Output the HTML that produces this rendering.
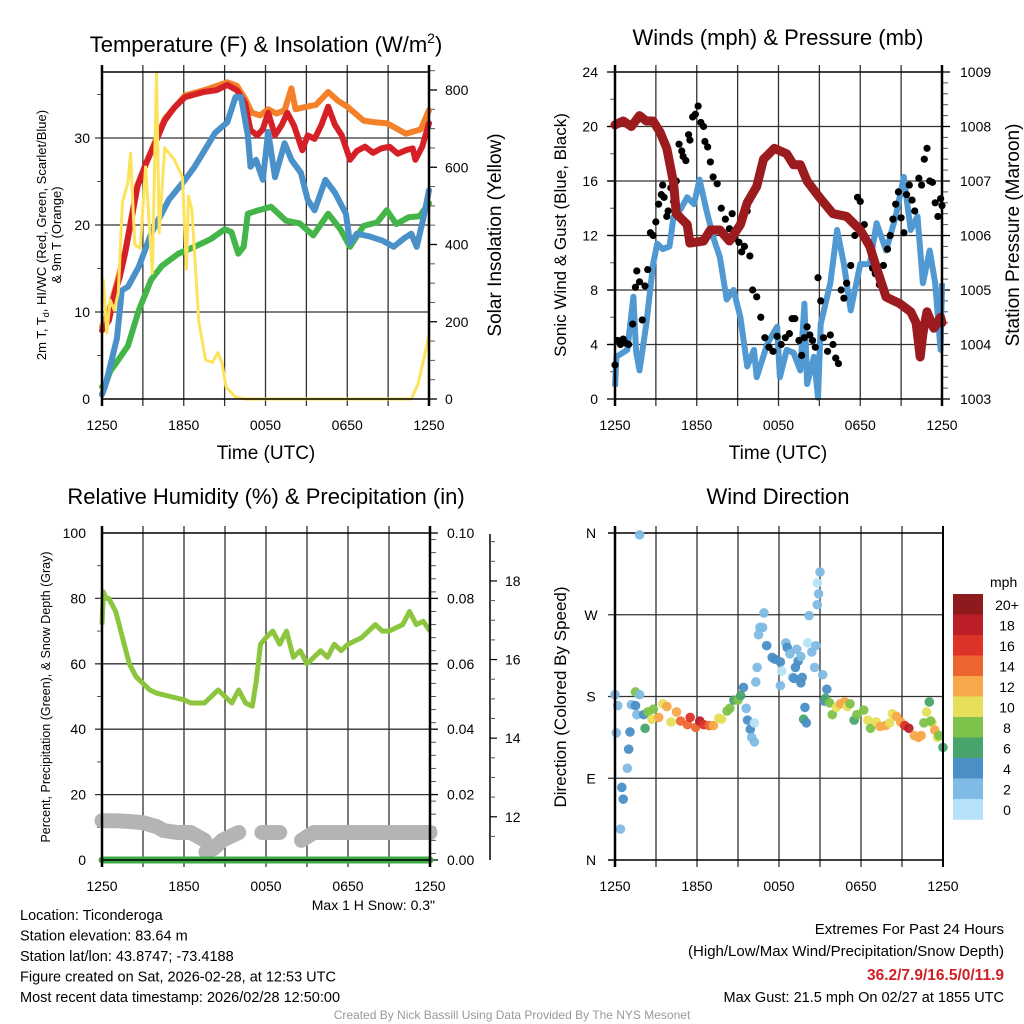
<!DOCTYPE html>
<html><head><meta charset="utf-8"><style>
html,body{margin:0;padding:0;background:#fff}
svg{display:block;font-family:"Liberation Sans",Arial,sans-serif}
</style></head><body>
<svg id="fig" width="1024" height="1024" viewBox="0 0 1024 1024"></svg>
<script>
// ---------- DATA ----------
const xTickLabels = ["1250","1850","0050","0650","1250"];
// Temperature panel (hours since start, degF)
const tRedH = [0,0.5,0.95,1.3,1.7,2.2,2.6,3.2,3.9,4.6,5.3,6.1,6.8,7.5,8.4,9.2,9.9,10.5,10.9,11.4,11.8,12.2,12.7,13.2,13.6,14.1,14.7,15.1,15.6,16.1,16.6,17.1,17.6,18.2,18.7,19.3,19.9,20.5,21.1,21.7,22.3,22.8,23.0,23.5,24];
const tRedV = [7.9,9,12.2,14,16.8,21,24.4,27,29.4,32,33.5,34.7,35,35.3,35.5,36.1,35.5,34,30.9,30.3,31,32.9,30.3,31.5,32.9,31.4,28.6,30.3,29.9,31.5,33.6,31.5,30.3,27.5,28.5,29,28.3,28.8,29,28.2,28.6,28.8,27.5,29,31.7];
const tOrgH = [0,0.5,0.95,1.7,2.6,3.9,4.6,6.1,7.5,9.2,9.9,10.5,11,11.6,12.2,12.8,13.4,13.9,14.2,15,15.7,16.6,17.3,18,19.2,20,20.9,21.6,22.3,23,23.4,24];
const tOrgV = [8.3,10,12.5,17,24.6,29.6,32.2,34.9,35.5,36.4,36,34.5,32.9,32.6,33.3,32.8,33.2,35.7,33.3,33.6,33.8,35.3,34.3,33.6,32,31.8,31.7,31.1,30.5,30.8,31,33.2];
const tBluH = [0,0.22,0.71,1.1,1.45,1.9,2.7,3.6,4.9,6.1,6.8,7.5,8.3,9.2,9.8,10.2,10.7,10.9,11.3,11.8,12.2,12.7,13.4,13.9,14.6,15.1,15.6,16.4,17.1,17.9,18.2,18.7,19.6,20.6,21.4,22.2,22.7,23.1,23.6,24];
const tBluV = [0.5,1.4,4.5,7,12.5,12.9,15.2,19,22.9,25.2,26.7,28.5,30.6,31.8,34.7,34.7,30.3,26.7,27.5,25.2,30.7,25.5,29.4,27.5,26,22.9,21.7,25.2,23.7,21.3,17.9,19,18.7,18.2,17.5,18.5,19,17.5,20.9,24];
const tGrnH = [0,0.2,0.6,1.2,1.9,2.7,3.6,4.4,5.6,6.8,8,9,9.5,10,10.4,10.7,11.5,12.4,13.5,14.5,15.5,16.6,17.5,18.2,19.2,20.2,20.9,21.6,22.5,23.3,24];
const tGrnV = [1.4,1.4,3.2,4.5,6.1,10.2,13.7,15.3,16.7,17.5,18.4,19.5,19.2,16.7,17.5,21.3,21.7,22.1,20.5,20.2,18.8,21.3,19.5,17.5,19.9,20.3,21.7,20.1,20.9,21,22.5];
const solarH = [0,0.1,0.35,0.6,0.9,1.2,1.5,1.9,2.1,2.4,2.8,3.2,3.7,4.0,4.2,4.6,5.3,5.9,6.2,6.35,6.6,7.1,7.6,8.1,8.5,8.8,9.1,9.8,10.5,22.7,23.2,23.6,24];
const solarV = [250,308,171,256,230,275,508,560,637,400,390,601,326,845,430,650,620,575,336,525,490,202,101,95,120,95,31,5,0,0,40,101,165];
// Winds panel
const windH = [0,0.1,0.9,1.35,1.55,1.8,2.3,2.8,3.1,3.5,4,4.3,4.8,5.3,5.8,6.2,6.7,7.2,7.7,8.2,8.7,9.2,9.7,10.2,10.4,11.2,11.9,12.1,12.6,13.1,13.6,13.9,14.1,14.6,14.9,15.1,15.8,16.3,16.8,17.3,18,18.7,19.2,19.9,20.6,21.2,21.7,22.2,22.6,23.1,23.5,23.9,24];
const windV = [0.9,3.1,3.6,7.5,3.5,2.1,5.5,9.9,11.4,11,11.2,13.4,13.9,14.8,14.3,16.1,13.9,11.9,10.4,7.3,8,6,2.4,3.6,1.6,4.1,5.3,1.6,3.6,3.4,2.1,7,1.1,3.1,0.1,5.5,8.5,12.4,9.9,6.5,9.9,9.9,12.9,10.9,13.4,16.3,12.4,13.4,8.5,10.9,8.5,3.6,8.5];
const presH = [0,0.6,1.2,1.8,2.3,2.8,3.3,3.8,4.3,4.5,5.3,5.5,6.5,7,7.7,8.4,9.2,9.7,10.4,10.9,11.7,12.6,13.1,13.6,14.1,15,16,17,18,18.7,19.2,19.9,20.9,21.7,22.1,22.4,22.6,22.9,23.4,23.9,24];
const presV = [1008.03,1008.1,1008.0,1008.2,1008.1,1008.1,1007.9,1007.6,1006.96,1006.4,1006.2,1005.86,1005.9,1006.1,1006.1,1005.9,1006.2,1006.6,1006.9,1007.4,1007.6,1007.5,1007.3,1007.3,1007.0,1006.7,1006.4,1006.35,1006.1,1005.8,1005.4,1004.87,1004.75,1004.6,1004.4,1003.77,1004.2,1004.6,1004.3,1004.5,1004.4];
const gustH = [0.0,0.2,0.4,0.6,0.8,1.0,1.3,1.5,1.6,1.8,2.0,2.2,2.4,2.6,2.8,3.0,3.2,3.4,3.5,3.6,3.8,3.9,4.1,4.3,4.5,4.7,4.9,5.0,5.2,5.4,5.5,5.7,5.9,6.1,6.3,6.5,6.6,6.8,7.0,7.2,7.5,7.8,8.1,8.4,8.6,8.8,9.1,9.3,9.5,9.7,9.9,10.1,10.4,10.7,11.0,11.3,11.6,11.9,12.2,12.5,12.8,13.0,13.2,13.5,13.7,13.9,14.1,14.3,14.5,14.7,14.9,15.1,15.3,15.6,15.8,16.0,16.2,16.4,16.6,16.8,17.0,17.3,17.6,17.8,18.0,18.3,18.6,18.9,19.1,19.4,19.7,20.0,20.2,20.4,20.6,20.8,21.0,21.2,21.4,21.6,21.8,22.0,22.3,22.5,22.7,22.9,23.1,23.3,23.5,23.7,23.9,24.0];
const gustV = [2.5,4.3,4.0,4.4,4.1,4.0,5.5,8.2,9.4,8.6,5.8,8.3,9.5,12.2,12.0,13.0,14.3,15.0,15.7,14.8,13.4,13.8,15.5,14.5,16.0,18.7,18.2,17.8,17.5,19.4,19.0,20.7,20.9,21.5,20.3,20.0,18.9,18.5,17.4,16.3,15.8,14.0,13.2,12.5,13.6,11.8,11.5,10.8,11.2,13.8,10.5,8.0,7.5,6.0,4.5,3.8,3.5,4.6,4.0,4.5,4.8,5.9,5.9,4.3,3.2,4.5,5.3,4.7,4.3,3.8,8.9,7.2,4.5,3.5,4.7,4.0,3.0,2.6,8.0,7.4,8.5,9.8,12.0,14.8,14.5,12.8,11.5,9.6,9.2,8.4,9.8,11.0,12.0,13.2,14.3,15.2,13.3,12.2,15.0,15.7,14.6,13.8,16.2,15.7,17.6,18.4,16.0,15.9,14.4,13.4,14.7,14.2];
// Humidity panel
const rhH = [0,0.1,0.3,0.5,1,1.5,2,2.5,3,3.5,4,5,6,6.5,7,7.5,8,8.5,9,9.5,10,10.5,11,11.3,11.6,12,12.5,13,13.5,14,14.5,15,15.5,16,16.5,17,17.5,18,19,19.5,20,20.5,21,22,22.5,23,23.5,24];
const rhV = [72,82,80,80,76,68,60,56,54,52,51,50,49,48,48,48,50,52,50,48,52,48,47,55,66,68,70,66,70,62,64,60,62,64,62,66,64,66,68,70,72,70,70,72,76,72,73,70];
const snowSeg1H = [0,1,2,3,4,4.5,5.5,6.5,7,7.5];
const snowSeg1V = [11.9,11.9,11.88,11.85,11.75,11.65,11.6,11.6,11.5,11.4];
const snowSeg2H = [7.6,8.2,8.8,9.4,10.0];
const snowSeg2V = [11.1,11.2,11.4,11.5,11.6];
const snowSeg3H = [11.7,12.4,13.0];
const snowSeg3V = [11.6,11.6,11.6];
const snowSeg4H = [14.6,15.5,17,18.5,20,21.5,23,24];
const snowSeg4V = [11.4,11.6,11.6,11.6,11.6,11.6,11.6,11.6];
const precipH = [0,24];
const precipV = [0,0];
// Wind direction panel
const dirH = [0.0,0.2,0.1,1.1,1.0,0.9,0.5,0.6,0.4,1.2,1.5,1.5,1.8,1.8,1.6,2.1,2.2,2.4,2.7,2.8,3.2,3.5,3.8,4.1,4.5,4.8,5.3,5.5,5.9,6.2,6.5,6.9,7.2,7.6,7.8,8.2,8.4,8.7,9.0,9.2,9.4,9.6,9.7,9.9,10.0,10.2,10.2,10.3,10.4,10.5,10.8,10.6,10.9,11.1,11.5,11.7,12.1,12.1,12.2,12.5,12.6,12.8,13.0,13.1,13.2,13.3,13.4,13.6,13.6,13.7,13.9,13.8,14.0,14.1,14.2,14.4,14.6,14.7,14.8,14.9,14.8,15.0,15.2,15.3,15.4,15.5,15.7,15.9,16.2,16.5,16.8,17.0,17.2,17.5,17.7,18.2,18.5,18.7,19.1,19.4,19.8,20.1,20.3,20.6,20.9,21.2,21.5,21.9,22.2,22.4,22.6,22.8,23.0,23.2,23.1,23.4,23.6,23.7,24.0];
const dirDeg = [182,170,140,141,122,101,80,67,34,171,185,170,358,182,160,160,145,163,155,166,157,172,169,152,163,153,149,157,146,153,149,148,148,156,155,164,167,176,176,181,190,167,154,144,135,130,151,196,212,248,256,256,272,236,223,221,218,192,208,239,234,227,201,200,212,232,219,195,224,201,168,155,151,239,269,229,212,236,281,293,305,317,204,175,178,188,173,160,168,172,174,169,172,154,160,165,154,145,152,147,148,151,161,158,152,148,145,137,135,137,151,163,174,151,153,143,135,137,124,140];
const dirSpd = [2,2,2,4,4,2,4,4,2,2,8,4,2,2,2,4,6,8,10,8,12,10,12,10,12,14,14,16,14,18,16,14,12,10,10,8,8,6,8,6,4,2,4,4,2,2,0,2,2,2,2,2,2,4,4,4,4,2,0,2,4,2,2,4,4,2,4,4,2,4,4,6,4,0,2,2,2,2,2,2,0,2,2,4,6,4,8,8,10,12,12,10,8,6,8,8,10,8,10,12,12,10,10,12,12,16,18,12,12,12,8,10,6,10,8,12,10,8,6,8];
const cbLabels = ["20+","18","16","14","12","10","8","6","4","2","0"];
const cbColors = ["#8e1a1d","#bc1d26","#dc3228","#ef6531","#f7a84b","#e6df59","#7dc24b","#48a46d","#4a8fc6","#7fbbe4","#b5e2f8"];

// ---------- HELPERS ----------
const NS = "http://www.w3.org/2000/svg";
const svg = document.getElementById('fig');
function mk(tag, attrs, parent, name, inter) {
  const e = document.createElementNS(NS, tag);
  for (const k in attrs) e.setAttribute(k, attrs[k]);
  
  
  (parent || svg).appendChild(e);
  return e;
}
function txt(x, y, s, size, anchor, parent, name, extra) {
  const t = mk('text', Object.assign({x: x, y: y, 'font-size': size, 'text-anchor': anchor || 'middle', fill: '#000'}, extra || {}), parent, name, false);
  t.textContent = s;
  return t;
}
function lin(d0, d1, r0, r1) { return v => r0 + (v - d0) / (d1 - d0) * (r1 - r0); }
function pathFrom(xs, ys, sx, sy) {
  let d = '';
  for (let i = 0; i < xs.length; i++) d += (i ? 'L' : 'M') + sx(xs[i]).toFixed(1) + ',' + sy(ys[i]).toFixed(1);
  return d;
}
function panel(L, R, T, B, name) {
  const g = mk('g', {}, svg, name, false);
  const sx = lin(0, 24, L, R);
  for (let h = 3; h < 24; h += 3) {
    mk('line', {x1: sx(h), x2: sx(h), y1: T - 7, y2: B + 7, stroke: '#333', 'stroke-width': 1.3}, g, 'x-gridline', false);
  }
  for (let h = 0; h <= 24; h += 6) {
    txt(sx(h), B + 31, xTickLabels[h / 6], 14, 'middle', g, 'x-tick-label');
  }
  return {g: g, sx: sx};
}
function frame(g, L, R, T, B) {
  mk('line', {x1: L, x2: R, y1: T, y2: T, stroke: '#000', 'stroke-width': 1.5}, g, 'plot-top-border', false);
  mk('line', {x1: L, x2: R, y1: B, y2: B, stroke: '#000', 'stroke-width': 1.5}, g, 'plot-bottom-border', false);
  mk('line', {x1: L, x2: L, y1: T - 7, y2: B + 7, stroke: '#000', 'stroke-width': 2.5}, g, 'left-axis-line', false);
  mk('line', {x1: R, x2: R, y1: T - 7, y2: B + 7, stroke: '#000', 'stroke-width': 2.5}, g, 'right-axis-line', false);
}
function hGrid(g, L, R, ys) { ys.forEach(y => mk('line', {x1: L - 7, x2: R, y1: y, y2: y, stroke: '#333', 'stroke-width': 1.3}, g, 'y-gridline', false)); }
function ticksY(g, x, ys, len) { ys.forEach(y => mk('line', {x1: x, x2: x + len, y1: y, y2: y, stroke: '#555', 'stroke-width': 1}, g, 'y-minor-tick', false)); }

// ---------- PANEL 1: TEMPERATURE ----------
(function(){
  const L = 102, R = 429, T = 72, B = 399;
  const p = panel(L, R, T, B, 'temperature-panel'); const g = p.g, sx = p.sx;
  const sy = lin(0, 10, B, B - 87);
  const sr = lin(0, 200, B, B - 77.25);
  hGrid(g, L, R, [10, 20, 30].map(sy));
  const minorL = []; for (let v = 5; v <= 35; v += 10) minorL.push(sy(v));
  ticksY(g, L - 5, minorL, 5);
  const minorR = []; for (let v = 50; v <= 850; v += 50) if (v % 200) minorR.push(sr(v));
  ticksY(g, R, minorR, 6);
  [0, 200, 400, 600, 800].forEach(v => { mk('line', {x1: R, x2: R + 8, y1: sr(v), y2: sr(v), stroke: '#000', 'stroke-width': 1.3}, g, 'right-major-tick', false); txt(R + 16, sr(v) + 5, String(v), 14, 'start', g, 'right-tick-label'); });
  [0, 10, 20, 30].forEach(v => txt(L - 12, sy(v) + 5, String(v), 14, 'end', g, 'left-tick-label'));
  const mkLine = (xs, ys, col, w, name, syy) => mk('path', {d: pathFrom(xs, ys, sx, syy || sy), fill: 'none', stroke: col, 'stroke-width': w, 'stroke-linejoin': 'round', 'stroke-linecap': 'round'}, g, name, false);
  mkLine(tGrnH, tGrnV, '#44b548', 6, 'dewpoint-line');
  mkLine(tOrgH, tOrgV, '#f4812a', 6, 'temp-9m-line');
  mkLine(tRedH, tRedV, '#d62027', 6, 'temp-2m-line');
  mkLine(tBluH, tBluV, '#4b91c9', 6, 'wind-chill-line');
  mkLine(solarH, solarV, '#fde35b', 3, 'solar-insolation-line', sr);
  frame(g, L, R, T, B);
  const t = txt(266, 52, 'Temperature (F) & Insolation (W/m', 22, 'middle', g, 'chart-title-temperature');
  const ts = document.createElementNS(NS, 'tspan'); ts.setAttribute('dy', -9); ts.setAttribute('font-size', 14); ts.textContent = '2'; t.appendChild(ts);
  const ts2 = document.createElementNS(NS, 'tspan'); ts2.setAttribute('dy', 9); ts2.textContent = ')'; t.appendChild(ts2);
  txt(266, 459, 'Time (UTC)', 19, 'middle', g, 'x-axis-title');
  const yl = mk('text', {x: 0, y: 0, 'font-size': 13, 'text-anchor': 'middle', transform: 'translate(46,235) rotate(-90)'}, g, 'y-axis-title-temperature', false);
  yl.innerHTML = '<tspan x="0" dy="0">2m T, T<tspan font-size="9" dy="3">d</tspan><tspan dy="-3">, HI/WC (Red, Green, Scarlet/Blue)</tspan></tspan><tspan x="0" dy="15">&amp; 9m T (Orange)</tspan>';
  txt(0, 0, 'Solar Insolation (Yellow)', 19, 'middle', g, 'y-axis-title-solar', {transform: 'translate(501,235) rotate(-90)'});
})();

// ---------- PANEL 2: WINDS ----------
(function(){
  const L = 615, R = 942, T = 72, B = 399;
  const p = panel(L, R, T, B, 'winds-panel'); const g = p.g, sx = p.sx;
  const sy = lin(0, 24, B, T);
  const sp = lin(1003, 1009, B, T);
  hGrid(g, L, R, [4, 8, 12, 16, 20].map(sy));
  [0, 4, 8, 12, 16, 20, 24].forEach(v => { txt(L - 17, sy(v) + 5, String(v), 14, 'end', g, 'left-tick-label'); mk('line', {x1: L - 8, x2: L, y1: sy(v), y2: sy(v), stroke: '#000', 'stroke-width': 1.3}, g, 'left-major-tick', false); });
  const mi = []; for (let v = 2; v < 24; v += 4) mi.push(sy(v)); ticksY(g, L - 5, mi, 5);
  [1003, 1004, 1005, 1006, 1007, 1008, 1009].forEach(v => { mk('line', {x1: R, x2: R + 8, y1: sp(v), y2: sp(v), stroke: '#000', 'stroke-width': 1.3}, g, 'right-major-tick', false); txt(R + 18, sp(v) + 5, String(v), 14, 'start', g, 'right-tick-label'); });
  const mr = []; for (let v = 1003.2; v < 1009; v += 0.2) if (Math.abs(v - Math.round(v)) > 0.05) mr.push(sp(v)); ticksY(g, R, mr, 6);
  mk('path', {d: pathFrom(windH, windV, sx, sy), fill: 'none', stroke: '#5199d2', 'stroke-width': 6, 'stroke-linejoin': 'round'}, g, 'sonic-wind-line', false);
  for (let i = 0; i < gustH.length; i++) {
    mk('circle', {cx: sx(gustH[i]), cy: sy(gustV[i]), r: 3.6, fill: '#000'}, g, 'gust-point', false);
  }
  mk('path', {d: pathFrom(presH, presV, sx, sp), fill: 'none', stroke: '#9b1b1e', 'stroke-width': 9, 'stroke-linejoin': 'round', 'stroke-linecap': 'round'}, g, 'pressure-line', false);
  frame(g, L, R, T, B);
  txt(778, 45, 'Winds (mph) & Pressure (mb)', 22, 'middle', g, 'chart-title-winds');
  txt(778, 459, 'Time (UTC)', 19, 'middle', g, 'x-axis-title');
  txt(0, 0, 'Sonic Wind & Gust (Blue, Black)', 17, 'middle', g, 'y-axis-title-wind', {transform: 'translate(566,235) rotate(-90)'});
  txt(0, 0, 'Station Pressure (Maroon)', 19, 'middle', g, 'y-axis-title-pressure', {transform: 'translate(1019,235) rotate(-90)'});
})();

// ---------- PANEL 3: HUMIDITY ----------
(function(){
  const L = 102, R = 430, T = 533, B = 860;
  const p = panel(L, R, T, B, 'humidity-panel'); const g = p.g, sx = p.sx;
  const sy = lin(0, 100, B, T);
  const spr = lin(0, 0.1, B, T);
  const ss = lin(10.9, 19.22, B, T);
  hGrid(g, L, R, [20, 40, 60, 80].map(sy));
  [0, 20, 40, 60, 80, 100].forEach(v => txt(L - 16, sy(v) + 5, String(v), 14, 'end', g, 'left-tick-label'));
  const mi = []; for (let v = 10; v < 100; v += 20) mi.push(sy(v)); ticksY(g, L - 5, mi, 5);
  ['0.00', '0.02', '0.04', '0.06', '0.08', '0.10'].forEach((s, i) => { mk('line', {x1: R, x2: R + 8, y1: spr(i * 0.02), y2: spr(i * 0.02), stroke: '#000', 'stroke-width': 1.3}, g, 'right-major-tick', false); txt(R + 17, spr(i * 0.02) + 5, s, 14, 'start', g, 'right-tick-label'); });
  const mr = []; for (let i = 1; i < 50; i++) if (i % 10) mr.push(spr(i * 0.002));
  ticksY(g, R, mr.filter((_, k) => k % 2 === 0), 6);
  mk('line', {x1: 490, x2: 490, y1: T + 1, y2: B, stroke: '#000', 'stroke-width': 1.5}, g, 'snow-axis-line', false);
  [12, 14, 16, 18].forEach(v => { mk('line', {x1: 490, x2: 497, y1: ss(v), y2: ss(v), stroke: '#000', 'stroke-width': 1.2}, g, 'snow-major-tick', false); txt(505, ss(v) + 5, String(v), 14, 'start', g, 'snow-tick-label'); });
  const ms = []; for (let v = 11.5; v < 19.2; v += 0.5) if (Math.abs(v - Math.round(v / 2) * 2) > 0.1) ms.push(ss(v)); ticksY(g, 490, ms, 5);
  mk('path', {d: pathFrom(rhH, rhV, sx, sy), fill: 'none', stroke: '#8cc63f', 'stroke-width': 5, 'stroke-linejoin': 'round'}, g, 'relative-humidity-line', false);
  [[snowSeg1H, snowSeg1V], [snowSeg2H, snowSeg2V], [snowSeg3H, snowSeg3V], [snowSeg4H, snowSeg4V]].forEach(s => {
    mk('path', {d: pathFrom(s[0], s[1], sx, ss), fill: 'none', stroke: '#b4b4b4', 'stroke-width': 15, 'stroke-linejoin': 'round', 'stroke-linecap': 'round'}, g, 'snow-depth-line', false);
  });
  mk('path', {d: pathFrom(precipH, precipV, sx, spr), fill: 'none', stroke: '#3caa45', 'stroke-width': 7, 'stroke-linecap': 'round'}, g, 'precipitation-line', false);
  frame(g, L, R, T, B);
  txt(266, 504, 'Relative Humidity (%) & Precipitation (in)', 22, 'middle', g, 'chart-title-humidity');
  txt(0, 0, 'Percent, Precipitation (Green), & Snow Depth (Gray)', 12.5, 'middle', g, 'y-axis-title-humidity', {transform: 'translate(50,697) rotate(-90)'});
  txt(435, 910, 'Max 1 H Snow: 0.3"', 14, 'end', g, 'max-snow-note');
})();

// ---------- PANEL 4: WIND DIRECTION ----------
(function(){
  const L = 615, R = 943, T = 533, B = 860;
  const p = panel(L, R, T, B, 'wind-direction-panel'); const g = p.g, sx = p.sx;
  const sy = lin(0, 360, B, T);
  hGrid(g, L, R, [90, 180, 270].map(sy));
  mk('line', {x1: L - 7, x2: R, y1: T, y2: T, stroke: '#000', 'stroke-width': 1.5}, g, 'top-tick', false);
  mk('line', {x1: L - 7, x2: R, y1: B, y2: B, stroke: '#000', 'stroke-width': 1.5}, g, 'bottom-tick', false);
  [['N', 360], ['W', 270], ['S', 180], ['E', 90], ['N', 0]].forEach(a => txt(L - 24, sy(a[1]) + 5, a[0], 14, 'middle', g, 'direction-tick-label'));
  const binIdx = s => Math.max(0, Math.min(10, 10 - Math.floor(s / 2)));
  for (let i = 0; i < dirH.length; i++) {
    mk('circle', {cx: sx(dirH[i]), cy: sy(dirDeg[i]), r: 4.8, fill: cbColors[binIdx(dirSpd[i])], 'fill-opacity': 0.95}, g, 'direction-point', false);
  }
  mk('line', {x1: L, x2: L, y1: T - 7, y2: B + 7, stroke: '#000', 'stroke-width': 2.5}, g, 'left-axis-line', false);
  mk('line', {x1: R, x2: R, y1: T - 7, y2: B + 7, stroke: '#000', 'stroke-width': 2}, g, 'right-axis-line', false);
  txt(778, 504, 'Wind Direction', 22, 'middle', g, 'chart-title-direction');
  txt(0, 0, 'Direction (Colored By Speed)', 17, 'middle', g, 'y-axis-title-direction', {transform: 'translate(566,697) rotate(-90)'});
  const cb = mk('g', {}, g, 'speed-colorbar', false);
  const cbT = 594, cbH = 20.5;
  cbColors.forEach((c, i) => {
    mk('rect', {x: 953, y: cbT + i * cbH, width: 30, height: cbH + 0.3, fill: c}, cb, 'colorbar-swatch', false);
    txt(1007, cbT + i * cbH + 16, cbLabels[i], 14, 'middle', cb, 'colorbar-label');
  });
  txt(990, 587, 'mph', 14, 'start', cb, 'colorbar-title');
})();

// ---------- FOOTER TEXT ----------
const foot = mk('g', {}, svg, 'footer-info', false);
['Location: Ticonderoga', 'Station elevation: 83.64 m', 'Station lat/lon: 43.8747; -73.4188', 'Figure created on Sat, 2026-02-28, at 12:53 UTC', 'Most recent data timestamp: 2026/02/28 12:50:00']
  .forEach((s, i) => txt(20, 920 + i * 20.5, s, 14.5, 'start', foot, 'station-info-line'));
txt(1004, 934, 'Extremes For Past 24 Hours', 15, 'end', foot, 'extremes-title');
txt(1004, 956, '(High/Low/Max Wind/Precipitation/Snow Depth)', 15, 'end', foot, 'extremes-subtitle');
txt(1004, 980, '36.2/7.9/16.5/0/11.9', 15.5, 'end', foot, 'extremes-values', {fill: '#d02027', 'font-weight': 'bold'});
txt(1004, 1002, 'Max Gust: 21.5 mph On 02/27 at 1855 UTC', 14.5, 'end', foot, 'max-gust-note');
txt(512, 1019, 'Created By Nick Bassill Using Data Provided By The NYS Mesonet', 12, 'middle', foot, 'credit-line', {fill: '#999'});
</script>
</body></html>
